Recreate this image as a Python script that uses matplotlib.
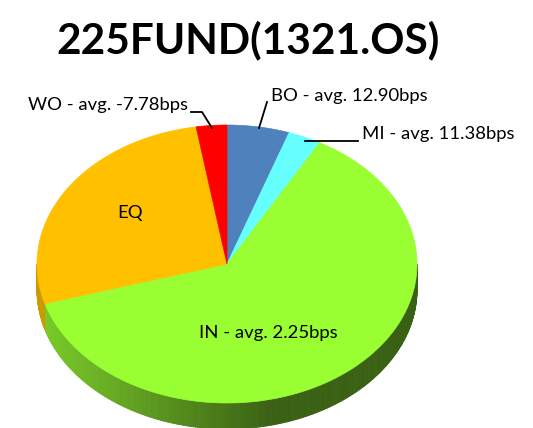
import numpy as np
import matplotlib.pyplot as plt
from matplotlib.patches import Polygon
from matplotlib.colors import to_rgb

# slice data, clockwise from 12 o'clock
names = ['BO', 'MI', 'IN', 'EQ', 'WO']
shares = [5.3, 2.8, 62.3, 27.0, 2.6]
avg_bps = [12.90, 11.38, 2.25, None, -7.78]
colors = ['#4F81BD', '#66FFFF', '#99FF33', '#FFC000', '#FF0000']
title = '225FUND(1321.OS)'

# geometry of the tilted pie (pixels)
CX, CY = 227, 264
RX, RY = 190, 139
DEPTH = 26

plt.rcParams['font.family'] = ['Lato', 'DejaVu Sans']

fig = plt.figure(figsize=(5.33, 4.28), dpi=100)
ax = fig.add_axes([0, 0, 1, 1])
ax.set_xlim(0, 533)
ax.set_ylim(428, 0)
ax.axis('off')


def pt(theta, r=1.0):
    return CX + RX * r * np.sin(theta), CY - RY * r * np.cos(theta)


bounds = np.concatenate([[0], np.cumsum(shares)]) / sum(shares) * 2 * np.pi

# side walls (only front half is visible)
for i in range(len(names)):
    a0, a1 = max(bounds[i], np.pi / 2), min(bounds[i + 1], 3 * np.pi / 2)
    if a1 <= a0:
        continue
    ts = np.linspace(a0, a1, max(2, int((a1 - a0) / 0.01)))
    base = np.array(to_rgb(colors[i]))
    for t0, t1 in zip(ts[:-1], ts[1:]):
        x0, y0 = pt(t0)
        x1, y1 = pt(t1)
        f = 0.8 - 0.42 * np.clip(((x0 + x1) / 2 - 40) / 230, 0, 1)
        c = base * f
        ax.add_patch(Polygon([(x0, y0), (x1, y1), (x1, y1 + DEPTH), (x0, y0 + DEPTH)],
                             closed=True, facecolor=c, edgecolor=c, lw=0.6))

# top face
for i in range(len(names)):
    ts = np.linspace(bounds[i], bounds[i + 1], 200)
    xs, ys = pt(ts)
    verts = [(CX, CY)] + list(zip(xs, ys))
    ax.add_patch(Polygon(verts, closed=True, facecolor=colors[i],
                         edgecolor=colors[i], lw=0.5))


def label(i):
    if avg_bps[i] is None:
        return names[i]
    return f'{names[i]} - avg. {avg_bps[i]:.2f}bps'


fs = 13.3
ax.text(130, 213, label(3), fontsize=fs, ha='center', va='center')
ax.text(268, 333, label(2), fontsize=fs, ha='center', va='center')

# outside labels with leader lines
ax.text(188, 105, label(4), fontsize=fs, ha='right', va='center')
ax.plot([191, 202, 212], [112, 112, 128], color='black', lw=1.3)

ax.text(271, 96, label(0), fontsize=fs, ha='left', va='center')
ax.plot([267, 259], [102, 128], color='black', lw=1.3)

ax.text(362, 134, label(1), fontsize=fs, ha='left', va='center')
ax.plot([305, 358], [141, 141], color='black', lw=1.3)

ax.text(248, 40, title, fontsize=30.5, fontweight='bold', ha='center', va='center')

fig.savefig('out.png', dpi=100)
